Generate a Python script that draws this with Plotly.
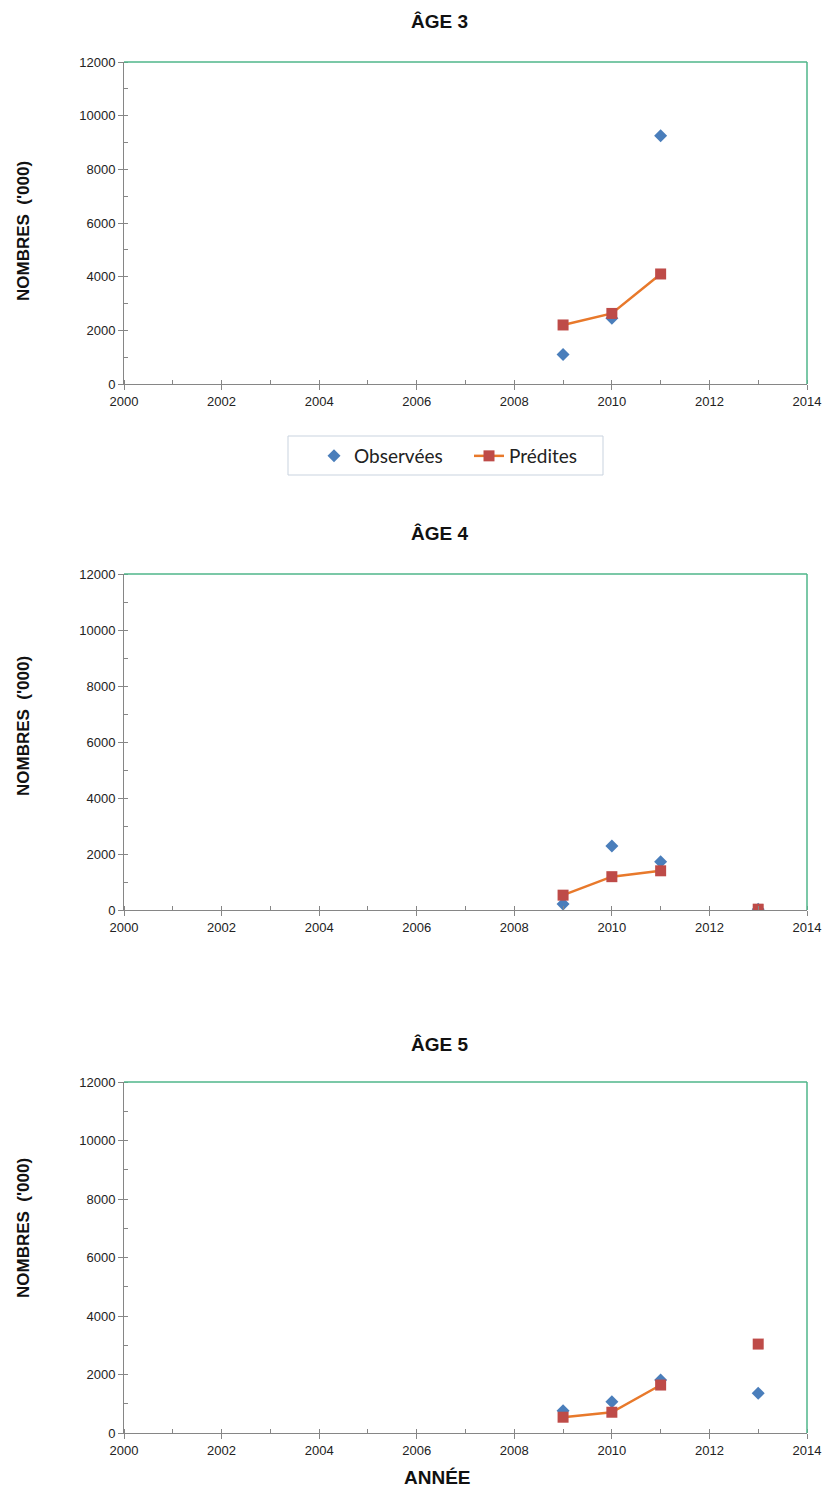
import plotly.graph_objects as go

years = [2009, 2010, 2011, 2012, 2013]
titles = ["ÂGE 3", "ÂGE 4", "ÂGE 5"]

obs_age3 = [1100, 2450, 9250, None, None]
pred_age3 = [2200, 2630, 4100, None, None]
obs_age4 = [210, 2290, 1720, None, 30]
pred_age4 = [530, 1190, 1400, None, 30]
obs_age5 = [760, 1070, 1810, None, 1360]
pred_age5 = [540, 710, 1640, None, 3040]

observed = [obs_age3, obs_age4, obs_age5]
predicted = [pred_age3, pred_age4, pred_age5]

x_ticks = list(range(2000, 2015, 2))
y_ticks = list(range(0, 12001, 2000))

W, H = 826, 1496
L, R = 124, 807
T, B = 40, 60
# pixel rows of each plot area (top, bottom), title centre, y-label centre
rows_px = [(62, 384), (574, 910), (1082, 1433)]
title_px = [22, 533, 1044]
ylabel_px = [231, 726, 1228]

BLUE = "#4A7EBB"
RED = "#BE4B48"
ORANGE = "#E8792B"
AXIS = "#868686"
GREEN = "#4FB68A"
NARROW = "Liberation Sans Narrow, Arial Narrow, Liberation Sans, Arial"


def px_x(p):
    return (p - L) / (R - L)


def px_y(p):
    return (H - B - p) / (H - T - B)


fig = go.Figure()

for i in range(3):
    xa = "x" if i == 0 else f"x{i+1}"
    ya = "y" if i == 0 else f"y{i+1}"
    fig.add_trace(go.Scatter(
        x=years, y=observed[i], mode="markers", name="Observées",
        marker=dict(symbol="diamond", size=10, color=BLUE),
        xaxis=xa, yaxis=ya, showlegend=(i == 0)))
    fig.add_trace(go.Scatter(
        x=years, y=predicted[i], mode="lines+markers", name="Prédites",
        marker=dict(symbol="square", size=11, color=RED),
        line=dict(color=ORANGE, width=2.5),
        connectgaps=False,
        xaxis=xa, yaxis=ya, showlegend=(i == 0)))

    top, bot = rows_px[i]
    xkey = "xaxis" if i == 0 else f"xaxis{i+1}"
    ykey = "yaxis" if i == 0 else f"yaxis{i+1}"
    fig.layout[xkey] = dict(
        domain=[0, 1], anchor=ya, range=[2000, 2014],
        tickvals=x_ticks, tickformat="d", ticks="outside", ticklen=5, tickcolor=AXIS,
        showline=True, linecolor=AXIS, linewidth=1, showgrid=False, zeroline=False,
        minor=dict(ticks="inside", dtick=1, ticklen=4, tickcolor=AXIS, showgrid=False),
        tickfont=dict(family=NARROW, size=13, color="#222222"))
    fig.layout[ykey] = dict(
        domain=[px_y(bot), px_y(top)], anchor=xa, range=[0, 12000],
        tickvals=y_ticks, tickformat="d", ticks="outside", ticklen=5, tickcolor=AXIS,
        showline=True, linecolor=AXIS, linewidth=1, showgrid=False, zeroline=False,
        minor=dict(ticks="inside", dtick=1000, ticklen=4, tickcolor=AXIS, showgrid=False),
        tickfont=dict(family=NARROW, size=13, color="#222222"))

    # green top and right border of the plot area
    fig.add_shape(type="line", xref=f"{xa} domain", yref=f"{ya} domain",
                  x0=0, x1=1, y0=1, y1=1, line=dict(color=GREEN, width=1.5))
    fig.add_shape(type="line", xref=f"{xa} domain", yref=f"{ya} domain",
                  x0=1, x1=1, y0=0, y1=1, line=dict(color=GREEN, width=1.5))

    # title
    fig.add_annotation(text=titles[i], xref="paper", yref="paper",
                       x=px_x(439), y=px_y(title_px[i]), xanchor="center", yanchor="middle",
                       showarrow=False,
                       font=dict(family=NARROW, size=19, color="#111111", weight="bold"))
    # y-axis label
    fig.add_annotation(text="NOMBRES  ('000)", xref="paper", yref="paper",
                       x=px_x(23), y=px_y(ylabel_px[i]), xanchor="center", yanchor="middle",
                       textangle=-90, showarrow=False,
                       font=dict(family="Liberation Sans, Arial", size=17, color="#111111", weight="bold"))

fig.add_annotation(text="ANNÉE", xref="paper", yref="paper",
                   x=px_x(437), y=px_y(1477), xanchor="center", yanchor="middle",
                   showarrow=False,
                   font=dict(family=NARROW, size=19, color="#111111", weight="bold"))

# legend frame
fig.add_shape(type="rect", xref="paper", yref="paper",
              x0=px_x(288), x1=px_x(603), y0=px_y(475), y1=px_y(436),
              line=dict(color="#C9D3DF", width=1), fillcolor="rgba(0,0,0,0)")

fig.update_layout(
    width=W, height=H,
    margin=dict(l=L, r=W - R, t=T, b=B, autoexpand=False),
    paper_bgcolor="white", plot_bgcolor="white",
    showlegend=True,
    legend=dict(orientation="h", x=px_x(314), y=px_y(456), xanchor="left", yanchor="middle",
                borderwidth=0, bgcolor="rgba(0,0,0,0)",
                font=dict(family="Lato, Carlito, Noto Sans", size=19, color="#222222"),
                itemwidth=30, entrywidth=110, tracegroupgap=0),
)

fig.write_html("out.html")
